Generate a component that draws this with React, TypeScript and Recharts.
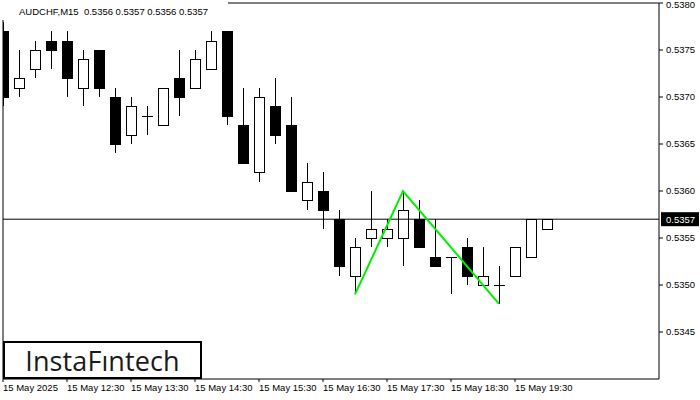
import { Bar, ComposedChart, Line, ReferenceLine, XAxis, YAxis } from 'recharts'

// 15-minute AUDCHF candles, 15 May 2025, starting 11:30
const times = [
  '11:30', '11:45', '12:00', '12:15', '12:30', '12:45', '13:00', '13:15', '13:30', '13:45',
  '14:00', '14:15', '14:30', '14:45', '15:00', '15:15', '15:30', '15:45', '16:00', '16:15',
  '16:30', '16:45', '17:00', '17:15', '17:30', '17:45', '18:00', '18:15', '18:30', '18:45',
  '19:00', '19:15', '19:30', '19:45', '20:00',
]
const opens = [
  0.5377, 0.5371, 0.5373, 0.5376, 0.5376, 0.5371, 0.5375, 0.537, 0.5366, 0.5368,
  0.5367, 0.5372, 0.5371, 0.5373, 0.5377, 0.5367, 0.5362, 0.5369, 0.5367, 0.5359,
  0.536, 0.5357, 0.5351, 0.5355, 0.5355, 0.5355, 0.5357, 0.5353, 0.5353, 0.5354,
  0.535, 0.535, 0.5351, 0.5353, 0.5356,
]
const highs = [
  0.5378, 0.5375, 0.5376, 0.5377, 0.5377, 0.5375, 0.5375, 0.5371, 0.537, 0.5369,
  0.5371, 0.5375, 0.5375, 0.5377, 0.5377, 0.5371, 0.5371, 0.5372, 0.537, 0.5363,
  0.5362, 0.5358, 0.5355, 0.536, 0.5357, 0.536, 0.5359, 0.5357, 0.5353, 0.5355,
  0.5354, 0.5352, 0.5354, 0.5357, 0.5357,
]
const lows = [
  0.5369, 0.537, 0.5372, 0.5373, 0.537, 0.5369, 0.537, 0.5364, 0.5365, 0.5366,
  0.5367, 0.5368, 0.5371, 0.5373, 0.5367, 0.5363, 0.5361, 0.5365, 0.536, 0.5358,
  0.5356, 0.5351, 0.5349, 0.5354, 0.5354, 0.5352, 0.5354, 0.5352, 0.5349, 0.535,
  0.535, 0.5348, 0.5351, 0.5353, 0.5356,
]
const closes = [
  0.537, 0.5372, 0.5375, 0.5375, 0.5372, 0.5374, 0.5371, 0.5365, 0.5369, 0.5368,
  0.5371, 0.537, 0.5374, 0.5376, 0.5368, 0.5363, 0.537, 0.5366, 0.536, 0.5361,
  0.5358, 0.5352, 0.5354, 0.5356, 0.5356, 0.5358, 0.5354, 0.5352, 0.5353, 0.5351,
  0.5351, 0.535, 0.5354, 0.5357, 0.5357,
]

// double top pattern: bottom, peak, bottom
const patternPoints: Record<number, number> = { 22: 0.5349, 25: 0.536, 31: 0.5348 }

const priceTicks = [0.5345, 0.535, 0.5355, 0.536, 0.5365, 0.537, 0.5375, 0.538]
const timeTicks = [0, 4, 8, 12, 16, 20, 24, 28, 32]
const lastPrice = 0.5357

const data = times.map((t, i) => ({
  idx: i,
  time: t,
  open: opens[i],
  high: highs[i],
  low: lows[i],
  close: closes[i],
  range: [lows[i], highs[i]],
  pattern: patternPoints[i] ?? null,
}))

const FONT = '"Liberation Sans", Arial, sans-serif'

function Candle(props: any) {
  const { x, y, width, height, payload } = props
  if (x == null || y == null) return null
  const top = Math.min(y, y + height)
  const h = Math.abs(height)
  const { open, high, low, close } = payload
  const k = high - low > 0 ? h / (high - low) : 0
  const cx = Math.round(x + width / 2)
  const py = (p: number) => top + (high - p) * k
  const bodyTop = Math.round(py(Math.max(open, close)))
  const bodyBot = Math.round(py(Math.min(open, close)))
  const bear = close < open
  return (
    <g>
      <line x1={cx + 0.5} x2={cx + 0.5} y1={Math.round(top)} y2={Math.round(top + h)} stroke="#000" strokeWidth={1} />
      {bodyBot - bodyTop < 1 ? (
        <line x1={cx - 5} x2={cx + 6} y1={bodyTop + 0.5} y2={bodyTop + 0.5} stroke="#000" strokeWidth={1} />
      ) : (
        <rect
          x={cx - 4.5}
          y={bodyTop + 0.5}
          width={10}
          height={bodyBot - bodyTop}
          fill={bear ? '#000' : '#fff'}
          stroke="#000"
          strokeWidth={1}
        />
      )}
    </g>
  )
}

function TimeTick(props: any) {
  const { x, y, payload } = props
  const i = payload.value
  const label = i === 0 ? '15 May 2025' : `15 May ${times[i]}`
  return (
    <text x={x} y={y} dy="0.71em" textAnchor="start" fontSize={9.5} fontFamily={FONT} fill="#000">
      {label}
    </text>
  )
}

function PriceTick(props: any) {
  const { x, y, payload } = props
  // keep the topmost label inside the picture
  const yy = Math.max(y, 5)
  return (
    <text x={x} y={yy} dy="0.35em" textAnchor="start" fontSize={9.5} fontFamily={FONT} fill="#000">
      {Number(payload.value).toFixed(4)}
    </text>
  )
}

function PriceTag(props: any) {
  const { viewBox } = props
  if (!viewBox) return null
  const x = viewBox.x + viewBox.width + 2
  const y = viewBox.y
  return (
    <g>
      <rect x={x} y={y - 7} width={38} height={14} fill="#000" />
      <text x={x + 5} y={y + 3.5} fontSize={9.5} fontFamily={FONT} fill="#fff">
        {lastPrice.toFixed(4)}
      </text>
    </g>
  )
}

export default function App() {
  return (
    <div style={{ position: 'fixed', left: 0, top: 0, width: 700, height: 400, background: '#fff' }}>
      <ComposedChart width={700} height={400} data={data} margin={{ top: 3, right: 0, bottom: 0, left: 3 }}>
        <XAxis
          dataKey="idx"
          type="number"
          domain={[0, 41]}
          ticks={timeTicks}
          interval={0}
          tick={<TimeTick />}
          tickSize={3}
          tickMargin={2}
          height={21}
          axisLine={{ stroke: '#000' }}
          tickLine={{ stroke: '#000' }}
          allowDataOverflow
        />
        <YAxis
          orientation="right"
          type="number"
          domain={[0.534, 0.538]}
          ticks={priceTicks}
          interval={0}
          tick={<PriceTick />}
          tickSize={4}
          tickMargin={3}
          width={41}
          axisLine={{ stroke: '#000' }}
          tickLine={{ stroke: '#000' }}
          allowDataOverflow
        />
        <ReferenceLine y={0.538} stroke="#000" strokeWidth={1} />
        <ReferenceLine x={0} stroke="#000" strokeWidth={1} />
        <ReferenceLine y={lastPrice} stroke="#000" strokeWidth={1} label={<PriceTag />} />
        <Bar dataKey="range" barSize={11} shape={<Candle />} isAnimationActive={false} />
        <Line
          dataKey="pattern"
          connectNulls
          stroke="#00ee00"
          strokeWidth={2}
          dot={false}
          activeDot={false}
          isAnimationActive={false}
        />
      </ComposedChart>
      <div style={{ position: 'absolute', left: 0, top: 0, width: 228, height: 20, background: '#fff' }} />
      <div
        style={{
          position: 'absolute',
          left: 19,
          top: 6,
          fontFamily: FONT,
          fontSize: 9.5,
          lineHeight: '11px',
          color: '#000',
          whiteSpace: 'pre',
        }}
      >
        {'AUDCHF,M15  0.5356 0.5357 0.5356 0.5357'}
      </div>
      <div
        style={{
          position: 'absolute',
          left: 3,
          top: 341,
          width: 195,
          height: 34,
          border: '2px solid #000',
          background: '#fff',
          display: 'flex',
          alignItems: 'center',
          justifyContent: 'center',
          fontFamily: '"Open Sans", sans-serif',
          fontSize: 27,
          fontWeight: 500,
          color: '#1a1a1a',
          letterSpacing: 0.1,
        }}
      >
        InstaFıntech
      </div>
    </div>
  )
}
